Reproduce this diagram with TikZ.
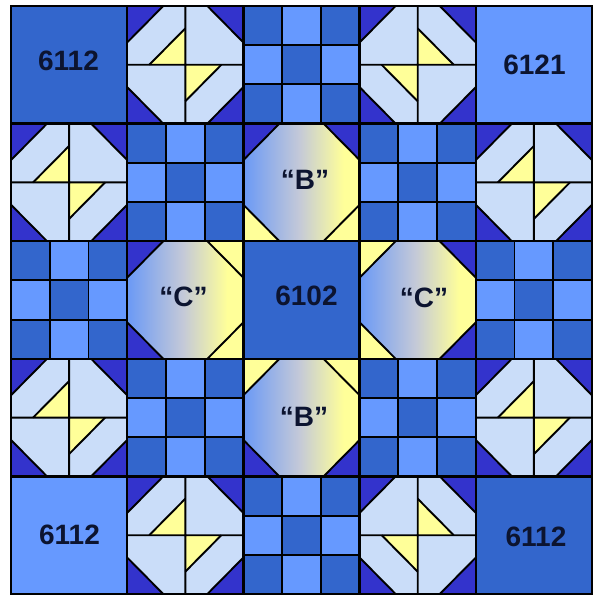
\documentclass[tikz,border=0pt]{standalone}
\usepackage{fontspec}
\setmainfont{Liberation Sans}
\definecolor{plaindark}{HTML}{3366CC}
\definecolor{plainlight}{HTML}{6699FF}
\definecolor{indigo}{HTML}{3333CC}
\definecolor{pale}{HTML}{CADDF9}
\definecolor{lemon}{HTML}{FFFF99}
\definecolor{octblue}{HTML}{6A99F6}
\definecolor{octgray}{HTML}{C4C9D8}
\definecolor{ink}{HTML}{0C1430}
\pgfdeclarehorizontalshading{octgrad}{100bp}{color(0bp)=(octblue); color(25bp)=(octblue); color(49bp)=(octgray); color(68bp)=(lemon); color(100bp)=(lemon)}
\tikzset{
  seam/.style={draw=black, line width=1.9pt, line join=round},
  blockrim/.style={draw=black, line width=2.3pt},
  lbl/.style={font=\fontsize{28}{28}\selectfont\bfseries, text=ink, inner sep=0pt}
}
\newcommand\qblock[3]{\begin{scope}[shift={({11+116.2*#1},{6+117.6*#2})},x=116.2pt,y=-117.6pt]#3\end{scope}}
\newcommand\snowbase{%
  \fill[pale] (0,0) rectangle (1,1);
  \fill[indigo] (0,0)--(0.31,0)--(0,0.31)--cycle (1,0)--(0.69,0)--(1,0.31)--cycle
                (0,1)--(0.31,1)--(0,0.69)--cycle (1,1)--(0.69,1)--(1,0.69)--cycle;}
\newcommand\snowlines{%
  \draw[seam] (0.5,0)--(0.5,1) (0,0.5)--(1,0.5) (0,0.31)--(0.31,0) (0.69,0)--(1,0.31)
              (1,0.69)--(0.69,1) (0.31,1)--(0,0.69);
  \draw[blockrim] (0,0) rectangle (1,1);}
\newcommand\snowA{\snowbase
  \fill[lemon] (0.5,0.5)--(0.5,0.19)--(0.19,0.5)--cycle (0.5,0.5)--(0.81,0.5)--(0.5,0.81)--cycle;
  \draw[seam] (0.5,0.19)--(0.19,0.5) (0.81,0.5)--(0.5,0.81);
  \snowlines}
\newcommand\snowB{\snowbase
  \fill[lemon] (0.5,0.5)--(0.5,0.19)--(0.81,0.5)--cycle (0.5,0.5)--(0.19,0.5)--(0.5,0.81)--cycle;
  \draw[seam] (0.5,0.19)--(0.81,0.5) (0.19,0.5)--(0.5,0.81);
  \snowlines}
\newcommand\ninepatch{%
  \fill[plainlight] (0,0) rectangle (1,1);
  \fill[plaindark] (0,0) rectangle (1/3,1/3) (2/3,0) rectangle (1,1/3) (1/3,1/3) rectangle (2/3,2/3)
                   (0,2/3) rectangle (1/3,1) (2/3,2/3) rectangle (1,1);
  \draw[seam] (1/3,0)--(1/3,1) (2/3,0)--(2/3,1) (0,1/3)--(1,1/3) (0,2/3)--(1,2/3);
  \draw[blockrim] (0,0) rectangle (1,1);}
\newcommand\octblock[4]{%
  \fill[#1] (0,0)--(0.31,0)--(0,0.31)--cycle;
  \fill[#2] (1,0)--(0.69,0)--(1,0.31)--cycle;
  \fill[#3] (1,1)--(0.69,1)--(1,0.69)--cycle;
  \fill[#4] (0,1)--(0.31,1)--(0,0.69)--cycle;
  \shade[shading=octgrad] (0.31,0)--(0.69,0)--(1,0.31)--(1,0.69)--(0.69,1)--(0.31,1)--(0,0.69)--(0,0.31)--cycle;
  \draw[seam] (0,0.31)--(0.31,0) (0.69,0)--(1,0.31) (1,0.69)--(0.69,1) (0.31,1)--(0,0.69);
  \draw[blockrim] (0,0) rectangle (1,1);}
\newcommand\plainblock[1]{%
  \fill[#1] (0,0) rectangle (1,1);
  \draw[blockrim] (0,0) rectangle (1,1);}
\begin{document}
\begin{tikzpicture}[x=1pt,y=-1pt]
\useasboundingbox (0,0) rectangle (599,596);
\fill[white] (0,0) rectangle (599,596);
% row 0
\qblock{0}{0}{\plainblock{plaindark}}
\qblock{1}{0}{\snowA}
\qblock{2}{0}{\ninepatch}
\qblock{3}{0}{\snowB}
\qblock{4}{0}{\plainblock{plainlight}}
% row 1
\qblock{0}{1}{\snowA}
\qblock{1}{1}{\ninepatch}
\qblock{2}{1}{\octblock{indigo}{indigo}{lemon}{lemon}}
\qblock{3}{1}{\ninepatch}
\qblock{4}{1}{\snowA}
% row 2
\qblock{0}{2}{\ninepatch}
\qblock{1}{2}{\octblock{indigo}{lemon}{lemon}{indigo}}
\qblock{2}{2}{\plainblock{plaindark}}
\qblock{3}{2}{\octblock{lemon}{indigo}{indigo}{lemon}}
\qblock{4}{2}{\ninepatch}
% row 3
\qblock{0}{3}{\snowA}
\qblock{1}{3}{\ninepatch}
\qblock{2}{3}{\octblock{lemon}{lemon}{indigo}{indigo}}
\qblock{3}{3}{\ninepatch}
\qblock{4}{3}{\snowA}
% row 4
\qblock{0}{4}{\plainblock{plainlight}}
\qblock{1}{4}{\snowA}
\qblock{2}{4}{\ninepatch}
\qblock{3}{4}{\snowB}
\qblock{4}{4}{\plainblock{plaindark}}
% labels
\node[lbl] (labTL) at (68.5,60.5) {6112};
\node[lbl] (labTR) at (534.5,64.5) {6121};
\node[lbl] (labMid) at (306.5,295.5) {6102};
\node[lbl] (labBL) at (69.5,535) {6112};
\node[lbl] (labBR) at (536,537) {6112};
\node[lbl] (labBtop) at (305,180) {“B”};
\node[lbl] (labCleft) at (183.5,297) {“C”};
\node[lbl] (labCright) at (424,297.5) {“C”};
\node[lbl] (labBbot) at (304,417) {“B”};
\end{tikzpicture}
\end{document}
